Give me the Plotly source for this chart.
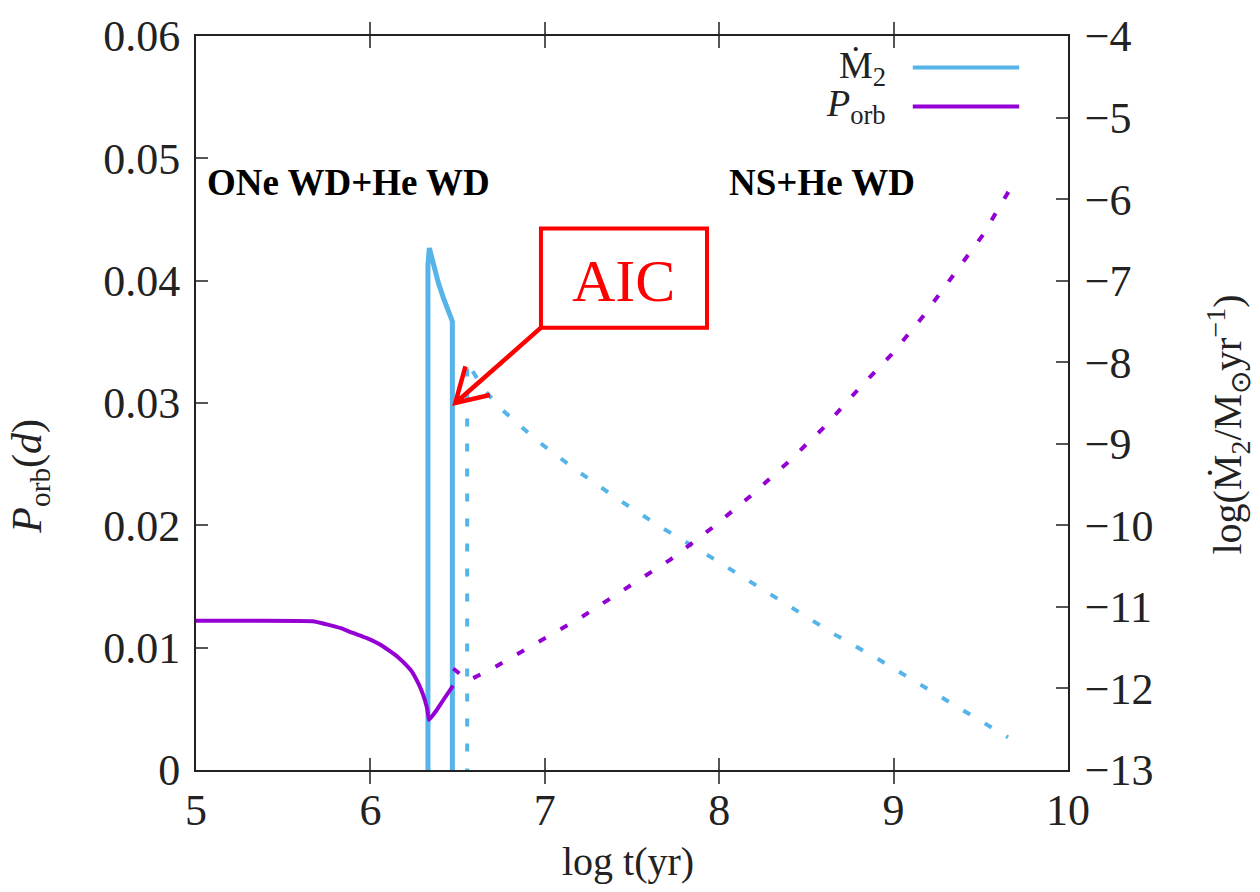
import plotly.graph_objects as go

# ---------------- data ----------------
# Orbital period (days), before AIC (solid) and after AIC (dashed)
porb_t_pre = [5.0, 5.30, 5.67, 5.75, 5.83, 5.90, 5.98, 6.05, 6.11, 6.16, 6.21, 6.24, 6.267,
              6.29, 6.313, 6.327, 6.336, 6.38, 6.416, 6.474]
porb_pre = [0.0122, 0.0122, 0.01216, 0.0119, 0.01159, 0.0112, 0.01078, 0.0103, 0.00973, 0.0092,
            0.00851, 0.0080, 0.00730, 0.0066, 0.00568, 0.0049, 0.00410, 0.0049, 0.00568, 0.00689]

porb_t_post = [6.475, 6.56, 6.70, 6.83, 6.955, 7.20, 7.44, 7.72, 7.96, 8.18, 8.39, 8.60,
               8.79, 8.99, 9.17, 9.34, 9.51, 9.66]
porb_post = [0.0083, 0.0073, 0.0083, 0.0094, 0.0104, 0.0124, 0.0146, 0.0172, 0.0198, 0.0224,
             0.0251, 0.0280, 0.0310, 0.0340, 0.0371, 0.0404, 0.0437, 0.0473]

# log mass-transfer rate (Msun/yr); -14 means below the axis floor
mdot_t_pre = [6.33, 6.33, 6.338, 6.36, 6.39, 6.42, 6.45, 6.47, 6.47]
mdot_pre = [-14.0, -6.80, -6.60, -6.80, -7.03, -7.22, -7.39, -7.50, -14.0]

mdot_t_post = [6.555, 6.555, 6.646, 6.743, 6.955, 7.185, 7.42, 7.672, 7.93, 8.177, 8.417,
               8.664, 8.911, 9.163, 9.398, 9.656]
mdot_post = [-14.0, -8.0, -8.32, -8.56, -8.96, -9.33, -9.68, -10.03, -10.36, -10.69, -11.01,
             -11.34, -11.64, -11.96, -12.27, -12.60]

x_ticks = [5, 6, 7, 8, 9, 10]
y_ticks = [0, 0.01, 0.02, 0.03, 0.04, 0.05, 0.06]
y2_ticks = [-4, -5, -6, -7, -8, -9, -10, -11, -12, -13]

BLUE = "#56B4E9"
PURPLE = "#9400D3"
SERIF = "Liberation Serif"
DASH = "8px,17px"

fig = go.Figure()

fig.add_trace(go.Scatter(x=mdot_t_pre, y=mdot_pre, mode="lines", yaxis="y2",
                         line=dict(color=BLUE, width=5), showlegend=False, hoverinfo="skip"))
fig.add_trace(go.Scatter(x=mdot_t_post, y=mdot_post, mode="lines", yaxis="y2",
                         line=dict(color=BLUE, width=4, dash=DASH), showlegend=False, hoverinfo="skip"))
fig.add_trace(go.Scatter(x=porb_t_pre, y=porb_pre, mode="lines", yaxis="y",
                         line=dict(color=PURPLE, width=4, shape="spline", smoothing=0.4),
                         showlegend=False, hoverinfo="skip"))
fig.add_trace(go.Scatter(x=porb_t_post, y=porb_post, mode="lines", yaxis="y",
                         line=dict(color=PURPLE, width=4, dash=DASH), showlegend=False, hoverinfo="skip"))

axis_common = dict(showgrid=False, zeroline=False, showline=True, linecolor="#222", linewidth=2,
                   ticks="inside", ticklen=12, tickwidth=1.5, tickcolor="#555",
                   tickfont=dict(family=SERIF, size=44, color="#222"))

fig.update_layout(
    width=1260, height=892, autosize=False,
    margin=dict(l=196, r=192, t=30, b=122),
    paper_bgcolor="white", plot_bgcolor="white",
    xaxis=dict(range=[5, 10], tickvals=x_ticks, mirror="allticks", **axis_common),
    yaxis=dict(range=[0, 0.06], tickvals=y_ticks, ticktext=[f"{v:g}" for v in y_ticks],
               overlaying="y2", side="left", ticklabelstandoff=5, **axis_common),
    yaxis2=dict(range=[-13, -4], tickvals=y2_ticks, side="right", ticklabelstandoff=6,
                **axis_common),
)

ann_font = dict(family=SERIF, color="#222")
annotations = [
    dict(text="log t(yr)", xref="paper", yref="paper", x=0.495, y=-0.124, showarrow=False,
         xanchor="center", yanchor="middle", font=dict(size=40, **ann_font)),
    dict(text="<i>P</i><sub>orb</sub>(<i>d</i>)", xref="paper", yref="paper", x=-0.19, y=0.40,
         textangle=-90, showarrow=False, xanchor="center", yanchor="middle",
         font=dict(size=42, **ann_font)),
    dict(text="log(Ṁ<sub>2</sub>/M<sub>⊙</sub>yr<sup>−1</sup>)", xref="paper", yref="paper",
         x=1.183, y=0.47, textangle=-90, showarrow=False, xanchor="center", yanchor="middle",
         font=dict(size=40, **ann_font)),
    dict(text="<b>ONe WD+He WD</b>", xref="paper", yref="paper", x=0.0103, y=0.8, showarrow=False,
         xanchor="left", yanchor="middle", font=dict(family=SERIF, size=37, color="black")),
    dict(text="<b>NS+He WD</b>", xref="paper", yref="paper", x=0.609, y=0.8, showarrow=False,
         xanchor="left", yanchor="middle", font=dict(family=SERIF, size=37, color="black")),
    dict(text="AIC", xref="x", yref="y", x=7.454, y=0.0400, showarrow=False,
         xanchor="center", yanchor="middle", font=dict(family=SERIF, size=60, color="red")),
    # legend (text left of sample line, as in the original)
    dict(text="Ṁ<sub>2</sub>", xref="paper", yref="paper", x=0.7936, y=0.957, showarrow=False,
         xanchor="right", yanchor="middle", font=dict(size=38, **ann_font)),
    dict(text="<i>P</i><sub>orb</sub>", xref="paper", yref="paper", x=0.7936, y=0.904, showarrow=False,
         xanchor="right", yanchor="middle", font=dict(size=38, **ann_font)),
]
fig.update_layout(annotations=annotations)

shapes = [
    dict(type="line", xref="paper", yref="paper", x0=0.822, x1=0.944, y0=0.957, y1=0.957,
         line=dict(color=BLUE, width=4)),
    dict(type="line", xref="paper", yref="paper", x0=0.822, x1=0.944, y0=0.904, y1=0.904,
         line=dict(color=PURPLE, width=4)),
    # AIC box
    dict(type="rect", xref="x", yref="y", x0=6.978, x1=7.930, y0=0.03616, y1=0.04427,
         line=dict(color="red", width=4), fillcolor="rgba(0,0,0,0)"),
    # arrow shaft and head
    dict(type="path", xref="x", yref="y",
         path="M 6.978 0.03616 L 6.487 0.0300 M 6.685 0.03065 L 6.487 0.0300 L 6.545 0.03300",
         line=dict(color="red", width=4.5)),
]
fig.update_layout(shapes=shapes)

fig.write_html("out.html")
